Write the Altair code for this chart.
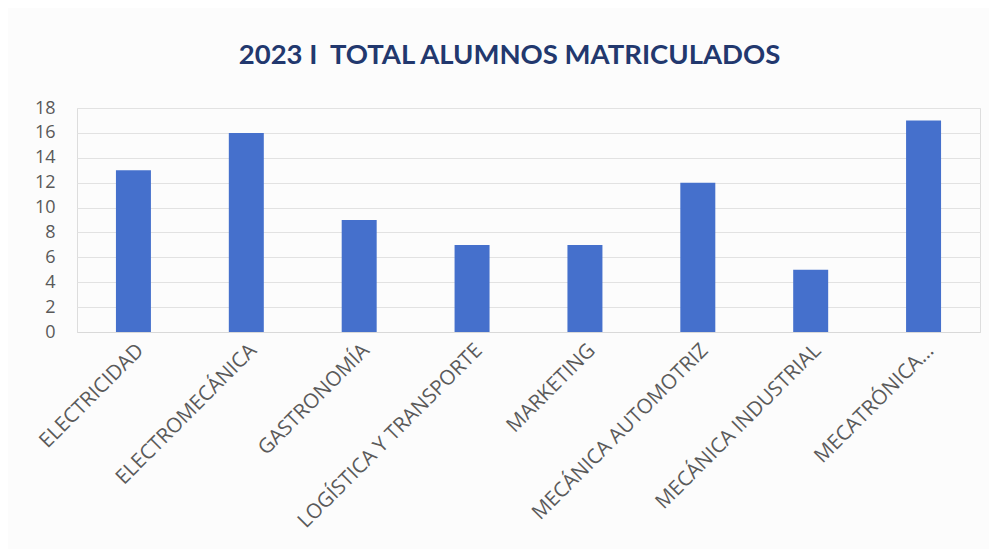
import altair as alt
import pandas as pd

categories = ["ELECTRICIDAD", "ELECTROMECÁNICA", "GASTRONOMÍA", "LOGÍSTICA Y TRANSPORTE",
              "MARKETING", "MECÁNICA AUTOMOTRIZ", "MECÁNICA INDUSTRIAL", "MECATRÓNICA..."]
values = [13, 16, 9, 7, 7, 12, 5, 17]
y_ticks = list(range(0, 19, 2))

df = pd.DataFrame({"carrera": categories, "alumnos": values})

chart = alt.Chart(df).mark_bar(color="#4570CC").encode(
    x=alt.X("carrera:N", sort=categories, title=None,
            scale=alt.Scale(paddingInner=0.69, paddingOuter=0.345),
            axis=alt.Axis(labelAngle=-45, labelFontSize=20.5, labelColor="#5a5a5a",
                          labelFont="Open Sans", ticks=False, domain=True,
                          domainColor="#d9d9d9", labelPadding=8, labelLimit=400)),
    y=alt.Y("alumnos:Q", title=None,
            scale=alt.Scale(domain=[0, 18]),
            axis=alt.Axis(values=y_ticks, labelFontSize=18, labelColor="#595959",
                          labelFont="Open Sans", ticks=False, domain=False,
                          gridColor="#e2e2e2", labelPadding=22)),
).properties(
    width=903, height=224,
    title=alt.TitleParams("2023 I\u00a0\u00a0TOTAL ALUMNOS MATRICULADOS", font="Lato",
                          fontSize=27.5, fontWeight="bold", color="#22386E",
                          anchor="middle", offset=30, dx=-19),
    autosize=alt.AutoSizeParams(type="none"),
    padding={"left": 69, "top": 100, "right": 9, "bottom": 217},
).configure_view(stroke=None).configure(background="#fcfcfc")

chart.save("out.html", embed_options={"renderer": "svg", "actions": False})
